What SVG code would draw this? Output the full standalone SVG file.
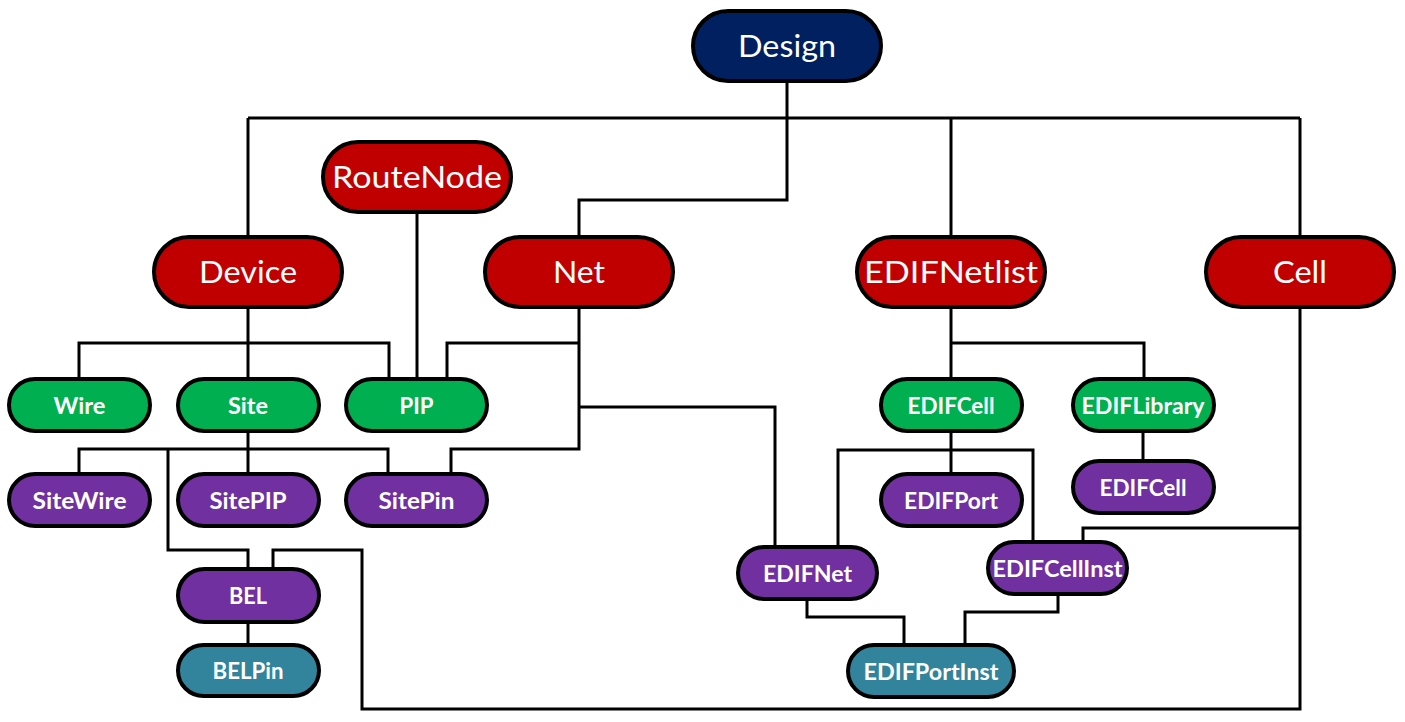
<svg xmlns="http://www.w3.org/2000/svg" width="1405" height="722" viewBox="0 0 1405 722">
<style>
.n{stroke:#000;stroke-width:4}
.big{font-family:Lato,"Open Sans","Liberation Sans",sans-serif;font-size:31px;fill:#fff;text-anchor:middle}
.sm{font-family:Lato,"Open Sans","Liberation Sans",sans-serif;font-size:23.5px;font-weight:bold;fill:#fff;text-anchor:middle}
.navy{fill:#002060}.red{fill:#C00000}.green{fill:#00B050}.purple{fill:#7030A0}.teal{fill:#31849B}
#connectors path{fill:none;stroke:#000;stroke-width:3;stroke-linejoin:miter}
</style>
<rect width="1405" height="722" fill="#fff"/>
<g id="connectors">
<path d="M787 82V118"/>
<path d="M248 118H1300"/>
<path d="M248 118V237"/>
<path d="M951 118V237"/>
<path d="M1300 118V237"/>
<path d="M787 118V200H579V237"/>
<path d="M417 212V379"/>
<path d="M248 307V379"/>
<path d="M79 379V343H389V379"/>
<path d="M579 307V449H451V474"/>
<path d="M579 343H447V379"/>
<path d="M579 407H775V547"/>
<path d="M248 431V474"/>
<path d="M79 474V449H388V474"/>
<path d="M168 449V550H248V569"/>
<path d="M273 569V550H362V709H1300V307"/>
<path d="M248 622V645"/>
<path d="M951 307V379"/>
<path d="M951 343H1144V379"/>
<path d="M951 431V474"/>
<path d="M838 547V450H1033V542"/>
<path d="M1143 431V461"/>
<path d="M1300 528H1083V542"/>
<path d="M807 600V617H904V645"/>
<path d="M1058 595V612H965V645"/>
</g>
<g id="design"><rect class="n navy" x="693" y="11" width="188" height="70" rx="35"/><text class="big" x="787" y="57" textLength="98" lengthAdjust="spacingAndGlyphs">Design</text></g>
<g id="routenode"><rect class="n red" x="323" y="142" width="188" height="70" rx="35"/><text class="big" x="417" y="188" textLength="170" lengthAdjust="spacingAndGlyphs">RouteNode</text></g>
<g id="device"><rect class="n red" x="154" y="237" width="188" height="70" rx="35"/><text class="big" x="248" y="283" textLength="98" lengthAdjust="spacingAndGlyphs">Device</text></g>
<g id="net"><rect class="n red" x="485" y="237" width="188" height="70" rx="35"/><text class="big" x="579" y="283" textLength="52" lengthAdjust="spacingAndGlyphs">Net</text></g>
<g id="edifnetlist"><rect class="n red" x="857" y="237" width="188" height="70" rx="35"/><text class="big" x="951" y="283" textLength="174" lengthAdjust="spacingAndGlyphs">EDIFNetlist</text></g>
<g id="cell"><rect class="n red" x="1206" y="237" width="188" height="70" rx="35"/><text class="big" x="1300" y="283" textLength="54" lengthAdjust="spacingAndGlyphs">Cell</text></g>
<g id="wire"><rect class="n green" x="9" y="379" width="141" height="52" rx="26"/><text class="sm" x="79.5" y="413.5" textLength="52" lengthAdjust="spacingAndGlyphs">Wire</text></g>
<g id="site"><rect class="n green" x="178" y="379" width="141" height="52" rx="26"/><text class="sm" x="248" y="413.5" textLength="40" lengthAdjust="spacingAndGlyphs">Site</text></g>
<g id="pip"><rect class="n green" x="346" y="379" width="141" height="52" rx="26"/><text class="sm" x="416.5" y="413.5" textLength="34" lengthAdjust="spacingAndGlyphs">PIP</text></g>
<g id="sitewire"><rect class="n purple" x="9" y="474" width="141" height="52" rx="26"/><text class="sm" x="79.5" y="508.5" textLength="94" lengthAdjust="spacingAndGlyphs">SiteWire</text></g>
<g id="sitepip"><rect class="n purple" x="178" y="474" width="141" height="52" rx="26"/><text class="sm" x="248" y="508.5" textLength="77" lengthAdjust="spacingAndGlyphs">SitePIP</text></g>
<g id="sitepin"><rect class="n purple" x="346" y="474" width="141" height="52" rx="26"/><text class="sm" x="416.5" y="508.5" textLength="76" lengthAdjust="spacingAndGlyphs">SitePin</text></g>
<g id="bel"><rect class="n purple" x="178" y="569" width="141" height="53" rx="26.5"/><text class="sm" x="248" y="604" textLength="38" lengthAdjust="spacingAndGlyphs">BEL</text></g>
<g id="belpin"><rect class="n teal" x="178" y="645" width="141" height="51" rx="25.5"/><text class="sm" x="248" y="679" textLength="71" lengthAdjust="spacingAndGlyphs">BELPin</text></g>
<g id="edifcell1"><rect class="n green" x="881" y="379" width="141" height="52" rx="26"/><text class="sm" x="951" y="413.5" textLength="87" lengthAdjust="spacingAndGlyphs">EDIFCell</text></g>
<g id="ediflibrary"><rect class="n green" x="1073" y="379" width="141" height="52" rx="26"/><text class="sm" x="1143" y="413.5" textLength="123" lengthAdjust="spacingAndGlyphs">EDIFLibrary</text></g>
<g id="edifport"><rect class="n purple" x="881" y="474" width="141" height="52" rx="26"/><text class="sm" x="951" y="508.5" textLength="94" lengthAdjust="spacingAndGlyphs">EDIFPort</text></g>
<g id="edifcell2"><rect class="n purple" x="1073" y="461" width="141" height="52" rx="26"/><text class="sm" x="1143" y="495.5" textLength="87" lengthAdjust="spacingAndGlyphs">EDIFCell</text></g>
<g id="edifnet"><rect class="n purple" x="738" y="547" width="139" height="52" rx="26"/><text class="sm" x="807.5" y="581.5" textLength="89" lengthAdjust="spacingAndGlyphs">EDIFNet</text></g>
<g id="edifcellinst"><rect class="n purple" x="988" y="542" width="139" height="52" rx="26"/><text class="sm" x="1057.5" y="576.5" textLength="130" lengthAdjust="spacingAndGlyphs">EDIFCellInst</text></g>
<g id="edifportinst"><rect class="n teal" x="848" y="645" width="166" height="52" rx="26"/><text class="sm" x="931" y="679.5" textLength="135" lengthAdjust="spacingAndGlyphs">EDIFPortInst</text></g>
</svg>
